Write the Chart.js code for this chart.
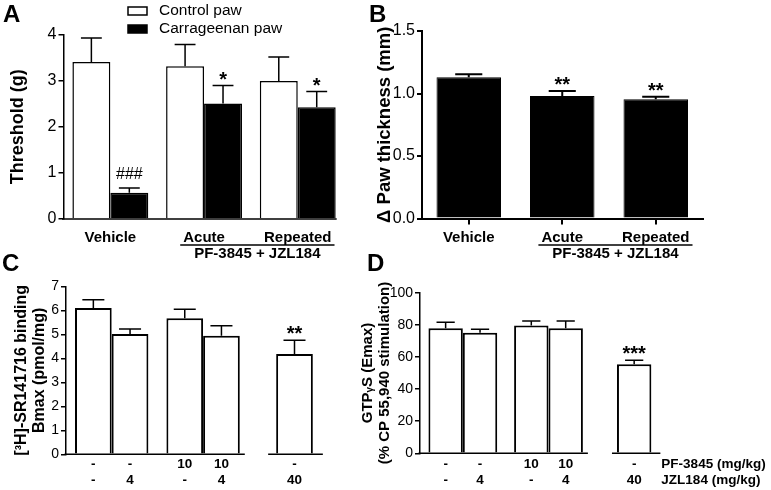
<!DOCTYPE html>
<html><head><meta charset="utf-8">
<script src="https://cdn.jsdelivr.net/npm/chart.js@4"></script>
<style>
body{margin:0;background:#fff;}
#wrap{position:relative;width:771px;height:490px;overflow:hidden;background:#fff;font-family:"Liberation Sans",Arial,sans-serif;}
canvas{position:absolute;}
.lt{position:absolute;font-weight:bold;font-size:24px;line-height:1;color:#000;}
</style></head><body>
<div id="wrap">
<canvas id="cA" width="370" height="262" style="left:0;top:0"></canvas>
<canvas id="cB" width="401" height="262" style="left:370px;top:0"></canvas>
<canvas id="cC" width="360" height="228" style="left:0;top:262px"></canvas>
<canvas id="cD" width="421" height="228" style="left:350px;top:262px"></canvas>
<div class="lt" style="left:3px;top:2px">A</div>
<div class="lt" style="left:369px;top:2px">B</div>
<div class="lt" style="left:2px;top:251px">C</div>
<div class="lt" style="left:367px;top:251px">D</div>
</div>
<script>
// ---------- data ----------
const treatmentGroups = ['Vehicle', 'Acute', 'Repeated'];
const controlPaw = [3.40, 3.31, 2.99];
const controlPawErr = [0.52, 0.47, 0.52];
const carrageenanPaw = [0.57, 2.50, 2.42];
const carrageenanPawErr = [0.10, 0.39, 0.34];
const carrageenanMarks = ['###', '*', '*'];

const pawThickness = [1.13, 0.98, 0.954];
const pawThicknessErr = [0.025, 0.04, 0.02];
const pawThicknessMarks = ['', '**', '**'];

const pf3845Dose = ['-', '-', '10', '10', '-'];
const jzl184Dose = ['-', '4', '-', '4', '40'];
const barGroups = [[0, 1], [2, 3], [4]];

const bmax = [6.10, 5.01, 5.67, 4.94, 4.18];
const bmaxErr = [0.34, 0.21, 0.37, 0.42, 0.57];
const bmaxMarks = ['', '', '', '', '**'];

const gtpEmax = [77.8, 75.1, 79.5, 77.8, 55.4];
const gtpEmaxErr = [3.8, 2.1, 2.9, 4.6, 2.5];
const gtpEmaxMarks = ['', '', '', '', '***'];

// ---------- setup ----------
Chart.defaults.font.family = '"Liberation Sans", Arial, sans-serif';
Chart.defaults.color = '#000';
const FF = '"Liberation Sans", Arial, sans-serif';

const errorBars = {
  id: 'errorBars',
  afterDatasetsDraw(chart, args, o) {
    const ctx = chart.ctx, ys = chart.scales.y;
    chart.data.datasets.forEach((ds, di) => {
      if (!ds.errors) return;
      chart.getDatasetMeta(di).data.forEach((bar, i) => {
        const v = ds.data[i], e = ds.errors[i];
        if (v == null || e == null) return;
        const top = ys.getPixelForValue(v + e);
        const half = bar.width * o.cap / 2;
        ctx.save();
        ctx.strokeStyle = '#000'; ctx.lineWidth = o.lineWidth;
        ctx.beginPath();
        ctx.moveTo(bar.x, bar.y); ctx.lineTo(bar.x, top);
        ctx.moveTo(bar.x - half, top); ctx.lineTo(bar.x + half, top);
        ctx.stroke();
        const m = ds.marks && ds.marks[i];
        if (m) {
          const star = m.indexOf('*') >= 0;
          ctx.fillStyle = '#000';
          ctx.font = star ? 'bold 20px ' + FF : '16px ' + FF;
          ctx.textAlign = 'center'; ctx.textBaseline = 'alphabetic';
          ctx.fillText(m, bar.x, top - (star ? 0 : 9));
        }
        ctx.restore();
      });
    });
  }
};

const baseline = {
  id: 'baseline',
  afterDatasetsDraw(chart, args, o) {
    if (!o.segments) return;
    const ctx = chart.ctx, y0 = chart.scales.y.getPixelForValue(0);
    const ext = chart.data.labels.map(() => [Infinity, -Infinity]);
    chart.data.datasets.forEach((ds, di) => {
      chart.getDatasetMeta(di).data.forEach((bar, i) => {
        if (ds.data[i] == null) return;
        ext[i][0] = Math.min(ext[i][0], bar.x - bar.width / 2);
        ext[i][1] = Math.max(ext[i][1], bar.x + bar.width / 2);
      });
    });
    ctx.save();
    ctx.strokeStyle = '#000'; ctx.lineWidth = o.lineWidth;
    o.segments.forEach(s => {
      const x1 = s.fromAxis ? chart.chartArea.left - o.lineWidth : ext[s.from][0] - s.padStart;
      const x2 = ext[s.to][1] + s.padEnd;
      ctx.beginPath(); ctx.moveTo(x1, y0); ctx.lineTo(x2, y0); ctx.stroke();
    });
    ctx.restore();
  }
};

const groupLabel = {
  id: 'groupLabel',
  afterDraw(chart, args, o) {
    if (!o.text) return;
    const ctx = chart.ctx, xs = chart.scales.x, labels = chart.data.labels;
    ctx.save();
    ctx.font = 'bold 15px ' + FF;
    const x1 = xs.getPixelForValue(o.from) - ctx.measureText(labels[o.from]).width / 2 - o.pad;
    const x2 = xs.getPixelForValue(o.to) + ctx.measureText(labels[o.to]).width / 2 + o.pad;
    const b = chart.chartArea.bottom;
    ctx.strokeStyle = '#000'; ctx.lineWidth = 1.5;
    ctx.beginPath(); ctx.moveTo(x1, b + o.lineY); ctx.lineTo(x2, b + o.lineY); ctx.stroke();
    ctx.fillStyle = '#000'; ctx.textAlign = 'center'; ctx.textBaseline = 'middle';
    ctx.fillText(o.text, (x1 + x2) / 2, b + o.textY);
    ctx.restore();
  }
};

const boxLegend = {
  id: 'boxLegend',
  afterDraw(chart, args, o) {
    if (!o.display) return;
    const ctx = chart.ctx;
    chart.data.datasets.forEach((ds, i) => {
      const y = o.y + i * o.rowGap;
      ctx.save();
      ctx.fillStyle = ds.backgroundColor; ctx.fillRect(o.x, y, o.boxW, o.boxH);
      ctx.strokeStyle = ds.borderColor; ctx.lineWidth = 1.5; ctx.strokeRect(o.x, y, o.boxW, o.boxH);
      ctx.fillStyle = '#000'; ctx.font = '15.5px ' + FF;
      ctx.textAlign = 'left'; ctx.textBaseline = 'middle';
      ctx.fillText(ds.label, o.x + o.boxW + o.gap, y + o.boxH / 2);
      ctx.restore();
    });
  }
};

const doseLabels = {
  id: 'doseLabels',
  afterDraw(chart, args, o) {
    if (!o.rows) return;
    const ctx = chart.ctx, b = chart.chartArea.bottom;
    let lastRight = -Infinity;
    ctx.save();
    ctx.fillStyle = '#000'; ctx.font = 'bold 13.5px ' + FF; ctx.textBaseline = 'middle';
    chart.data.datasets.forEach((ds, di) => {
      chart.getDatasetMeta(di).data.forEach((bar, i) => {
        const bi = ds.barIndex[i];
        if (bi == null) return;
        lastRight = Math.max(lastRight, bar.x + bar.width / 2);
        ctx.textAlign = 'center';
        o.rows.forEach((row, r) => ctx.fillText(row.values[bi], bar.x, b + o.rowY[r]));
      });
    });
    if (o.showNames) {
      ctx.textAlign = 'left';
      o.rows.forEach((row, r) => ctx.fillText(row.name, lastRight + o.nameGap, b + o.rowY[r]));
    }
    ctx.restore();
  }
};

function yAxis(c) {
  return {
    min: 0, max: c.max,
    ticks: { stepSize: c.step, font: { size: c.tickSize }, color: '#000', padding: 2,
             callback: c.fmt || (v => v) },
    grid: { display: true, drawOnChartArea: false, drawTicks: true, tickLength: 5, color: '#000', lineWidth: c.bw },
    border: { display: true, color: '#000', width: c.bw },
    title: { display: true, text: c.title, color: '#000',
             font: { size: c.titleSize, weight: 'bold', lineHeight: c.titleLH },
             padding: { top: c.titlePad, bottom: 0 } },
    afterFit(s) { s.width = c.width; }
  };
}

const common = { responsive: false, animation: false, devicePixelRatio: 1 };

// ---------- A ----------
new Chart(document.getElementById('cA'), {
  type: 'bar',
  data: {
    labels: treatmentGroups,
    datasets: [
      { label: 'Control paw', data: controlPaw, errors: controlPawErr, marks: null,
        backgroundColor: '#fff', borderColor: '#000', borderWidth: 1.5, categoryPercentage: 0.81, barPercentage: 1 },
      { label: 'Carrageenan paw', data: carrageenanPaw, errors: carrageenanPawErr, marks: carrageenanMarks,
        backgroundColor: '#000', borderColor: '#000', borderWidth: 1.5, categoryPercentage: 0.81, barPercentage: 1 }
    ]
  },
  options: Object.assign({}, common, {
    layout: { padding: { top: 34.3, right: 25.4, bottom: 0, left: 0 } },
    scales: {
      x: { offset: true, grid: { display: false, drawTicks: false }, border: { display: false },
           ticks: { font: { size: 15, weight: 'bold' }, color: '#000', padding: 10 },
           afterFit(s) { s.height = 43; } },
      y: yAxis({ max: 4, step: 1, tickSize: 16, bw: 1.5, title: 'Threshold (g)', titleSize: 18, titleLH: 1.2, titlePad: 7.5, width: 63.5 })
    },
    plugins: {
      legend: { display: false }, tooltip: { enabled: false },
      errorBars: { cap: 0.55, lineWidth: 1.5 },
      baseline: { lineWidth: 1.5, segments: [{ fromAxis: true, to: 2, padEnd: 1 }] },
      groupLabel: { text: 'PF-3845 + JZL184', from: 1, to: 2, pad: 3, lineY: 26, textY: 35 },
      boxLegend: { display: true, x: 128, y: 7, boxW: 19, boxH: 8, rowGap: 18, gap: 12 }
    }
  }),
  plugins: [errorBars, baseline, groupLabel, boxLegend]
});

// ---------- B ----------
new Chart(document.getElementById('cB'), {
  type: 'bar',
  data: {
    labels: treatmentGroups,
    datasets: [
      { label: 'Δ Paw thickness', data: pawThickness, errors: pawThicknessErr, marks: pawThicknessMarks,
        backgroundColor: '#000', borderColor: '#000', borderWidth: 1, categoryPercentage: 1, barPercentage: 0.69 }
    ]
  },
  options: Object.assign({}, common, {
    layout: { padding: { top: 31, right: 68.5, bottom: 0, left: 0 } },
    scales: {
      x: { offset: true,
           grid: { display: true, offset: false, drawOnChartArea: false, drawTicks: true, tickLength: 6, color: '#000', lineWidth: 2 },
           border: { display: true, color: '#000', width: 2 },
           ticks: { font: { size: 15, weight: 'bold' }, color: '#000', padding: 4 },
           afterFit(s) { s.height = 43.5; } },
      y: yAxis({ max: 1.5, step: 0.5, tickSize: 16, bw: 2, fmt: v => v.toFixed(1),
                 title: 'Δ Paw thickness (mm)', titleSize: 18.5, titleLH: 1.2, titlePad: 3.9, width: 52 })
    },
    plugins: {
      legend: { display: false }, tooltip: { enabled: false },
      errorBars: { cap: 0.42, lineWidth: 2 },
      groupLabel: { text: 'PF-3845 + JZL184', from: 1, to: 2, pad: 3, lineY: 26.5, textY: 35.5 }
    }
  }),
  plugins: [errorBars, groupLabel]
});

// ---------- C & D helpers ----------
function groupedDatasets(values, errs, marks, bw) {
  const style = { backgroundColor: '#fff', borderColor: '#000', borderWidth: bw, categoryPercentage: 0.803 };
  const out = [];
  [0, 1].forEach(s => {
    out.push(Object.assign({
      label: 'slot' + s,
      data: barGroups.map(g => g.length === 2 ? values[g[s]] : null),
      errors: barGroups.map(g => g.length === 2 ? errs[g[s]] : null),
      marks: barGroups.map(g => g.length === 2 ? marks[g[s]] : null),
      barIndex: barGroups.map(g => g.length === 2 ? g[s] : null),
      barPercentage: 1
    }, style));
  });
  out.push(Object.assign({
    label: 'single',
    data: barGroups.map(g => g.length === 1 ? values[g[0]] : null),
    errors: barGroups.map(g => g.length === 1 ? errs[g[0]] : null),
    marks: barGroups.map(g => g.length === 1 ? marks[g[0]] : null),
    barIndex: barGroups.map(g => g.length === 1 ? g[0] : null),
    grouped: false, barPercentage: 0.5
  }, style));
  return out;
}

// ---------- C ----------
new Chart(document.getElementById('cC'), {
  type: 'bar',
  data: { labels: barGroups.map(() => ''), datasets: groupedDatasets(bmax, bmaxErr, bmaxMarks, 2) },
  options: Object.assign({}, common, {
    layout: { padding: { top: 24.3, right: 19.8, bottom: 0, left: 0 } },
    scales: {
      x: { offset: true, grid: { display: false, drawTicks: false }, border: { display: false },
           ticks: { display: false }, afterFit(s) { s.height = 35.7; } },
      y: yAxis({ max: 7, step: 1, tickSize: 14, bw: 1.5,
                 title: ['[³H]-SR141716 binding', 'Bmax (pmol/mg)'], titleSize: 16, titleLH: 1.1, titlePad: 13.2, width: 66 })
    },
    plugins: {
      legend: { display: false }, tooltip: { enabled: false },
      errorBars: { cap: 0.6, lineWidth: 1.5 },
      baseline: { lineWidth: 1.5, segments: [{ fromAxis: true, to: 1, padEnd: 5 }, { from: 2, to: 2, padStart: 8, padEnd: 10 }] },
      doseLabels: { rows: [{ name: 'PF-3845 (mg/kg)', values: pf3845Dose }, { name: 'JZL184 (mg/kg)', values: jzl184Dose }],
                    rowY: [10, 26], showNames: false, nameGap: 10 }
    }
  }),
  plugins: [errorBars, baseline, doseLabels]
});

// ---------- D ----------
new Chart(document.getElementById('cD'), {
  type: 'bar',
  data: { labels: barGroups.map(() => ''), datasets: groupedDatasets(gtpEmax, gtpEmaxErr, gtpEmaxMarks, 2) },
  options: Object.assign({}, common, {
    layout: { padding: { top: 30.7, right: 94, bottom: 0, left: 0 } },
    scales: {
      x: { offset: true, grid: { display: false, drawTicks: false }, border: { display: false },
           ticks: { display: false }, afterFit(s) { s.height = 36.7; } },
      y: yAxis({ max: 100, step: 20, tickSize: 14, bw: 1.5,
                 title: ['GTPᵧS (Emax)', '(% CP 55,940 stimulation)'], titleSize: 15, titleLH: 1.1, titlePad: 9.75, width: 70 })
    },
    plugins: {
      legend: { display: false }, tooltip: { enabled: false },
      errorBars: { cap: 0.53, lineWidth: 1.5 },
      baseline: { lineWidth: 1.5, segments: [{ fromAxis: true, to: 1, padEnd: 5 }, { from: 2, to: 2, padStart: 5, padEnd: 9 }] },
      doseLabels: { rows: [{ name: 'PF-3845 (mg/kg)', values: pf3845Dose }, { name: 'JZL184 (mg/kg)', values: jzl184Dose }],
                    rowY: [10.5, 26.5], showNames: true, nameGap: 10 }
    }
  }),
  plugins: [errorBars, baseline, doseLabels]
});
</script>
</body></html>
